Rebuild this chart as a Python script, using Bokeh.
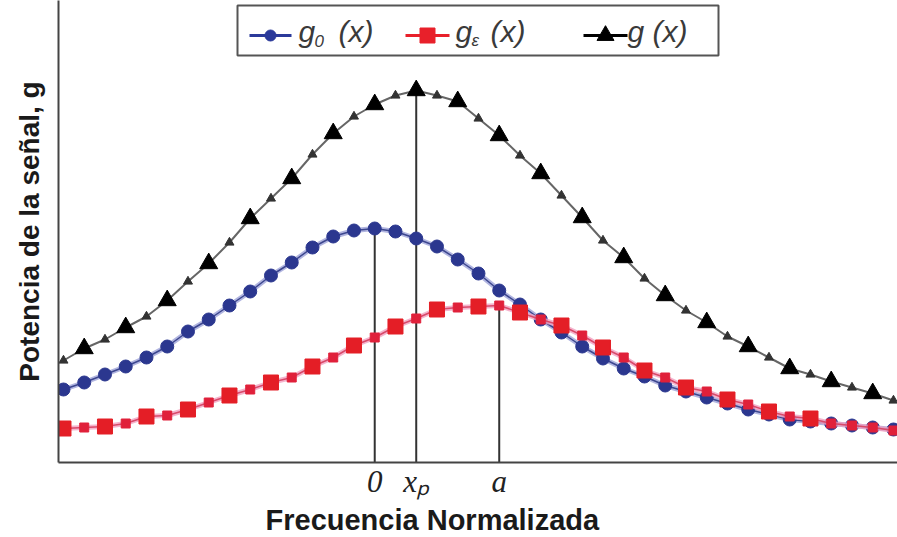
import numpy as np
from bokeh.plotting import figure
from bokeh.models import Range1d, FixedTicker, Title
from bokeh.core.properties import value
from bokeh.embed import file_html
from bokeh.resources import INLINE

# ---------------- data ----------------
freq = [-15, -14, -13, -12, -11, -10, -9, -8, -7, -6, -5, -4, -3, -2, -1, 0,
        1, 2, 3, 4, 5, 6, 7, 8, 9, 10, 11, 12, 13, 14, 15, 16, 17, 18, 19, 20,
        21, 22, 23, 24, 25]
g0 = [0.73, 0.80, 0.88, 0.96, 1.05, 1.16, 1.31, 1.43, 1.57, 1.71, 1.87, 2.00,
      2.15, 2.26, 2.32, 2.34, 2.31, 2.24, 2.16, 2.03, 1.89, 1.72, 1.58, 1.43,
      1.30, 1.16, 1.04, 0.94, 0.86, 0.77, 0.71, 0.65, 0.59, 0.53, 0.48, 0.43,
      0.41, 0.39, 0.37, 0.35, 0.33]
geps = [0.34, 0.35, 0.36, 0.39, 0.46, 0.47, 0.53, 0.60, 0.67, 0.73, 0.80, 0.85,
        0.96, 1.05, 1.17, 1.25, 1.36, 1.44, 1.53, 1.55, 1.56, 1.57, 1.50, 1.43,
        1.37, 1.27, 1.15, 1.05, 0.92, 0.85, 0.75, 0.71, 0.63, 0.58, 0.51, 0.46,
        0.44, 0.39, 0.37, 0.35, 0.32]
g = [1.02, 1.14, 1.23, 1.35, 1.46, 1.62, 1.81, 1.99, 2.20, 2.44, 2.64, 2.84,
     3.08, 3.29, 3.46, 3.58, 3.67, 3.72, 3.67, 3.61, 3.44, 3.27, 3.07, 2.89,
     2.67, 2.45, 2.22, 2.05, 1.84, 1.67, 1.52, 1.40, 1.26, 1.16, 1.05, 0.94,
     0.88, 0.81, 0.75, 0.69, 0.62]

tick_labels = ["0", "xₚ", "a"]
x_title = "Frecuencia Normalizada"
y_title = "Potencia de la señal, g"
legend_main = ["g", "g", "g"]
legend_sub = ["0", "ε", ""]
legend_arg = "(x)"

# ---------------- figure ----------------
W, H = 897, 537
FL, FR, FT, FB = 58, 897, 0, 462   # frame edges in canvas pixels
X0 = -15.24
X1 = X0 + (FR - FL) / 20.75
Y0 = 0.0
Y1 = (FB - FT) / 100.0


def sx(px):
    return X0 + (px - FL) * (X1 - X0) / (FR - FL)


def sy(py):
    return Y1 - (py - FT) * (Y1 - Y0) / (FB - FT)


p = figure(width=W, height=H, x_range=Range1d(X0, X1), y_range=Range1d(Y0, Y1),
           output_backend="svg", toolbar_location=None,
           min_border_left=FL, min_border_bottom=H - FB, min_border_top=FT, min_border_right=W - FR)
p.outline_line_color = None
p.grid.visible = False
p.background_fill_color = "white"

fx = np.array(freq, dtype=float)
a0 = np.array(g0)
ae = np.array(geps)
ag = np.array(g)
idx = np.arange(len(freq))

# peak positions -> ticks and drop lines
peaks_x = [fx[np.argmax(a0)], fx[np.argmax(ag)], fx[np.argmax(ae)]]
peaks_y = [a0.max(), ag.max(), ae.max()]

p.xaxis.ticker = FixedTicker(ticks=peaks_x)
p.xaxis.major_label_overrides = {float(t): lab for t, lab in zip(peaks_x, tick_labels)}
p.xaxis.major_label_text_font = "Liberation Serif"
p.xaxis.major_label_text_font_style = "italic"
p.xaxis.major_label_text_font_size = "31px"
p.xaxis.major_label_text_color = "#222222"
p.xaxis.major_label_standoff = -5
p.xaxis.major_tick_line_color = None
p.xaxis.minor_tick_line_color = None
p.yaxis.ticker = FixedTicker(ticks=[])
p.yaxis.major_tick_line_color = None
p.yaxis.minor_tick_line_color = None
for ax in (p.xaxis, p.yaxis):
    ax.axis_line_color = "#444444"
    ax.axis_line_width = 2

p.yaxis.axis_label = y_title
p.yaxis.axis_label_text_font = "Liberation Sans"
p.yaxis.axis_label_text_font_style = "bold"
p.yaxis.axis_label_text_font_size = "28px"
p.yaxis.axis_label_text_color = "#1a1a1a"
p.yaxis.axis_label_standoff = 14

# drop lines
p.segment(x0=peaks_x, y0=[0, 0, 0], x1=peaks_x, y1=peaks_y, line_color="#333333", line_width=2)

# g(x) black
p.line(fx, ag, line_color="#666666", line_width=2)
big = idx % 2 == 1
p.scatter(fx[~big], ag[~big], marker="triangle", size=9, fill_color="#333333", line_color="#333333")
p.scatter(fx[big], ag[big], marker="triangle", size=18, fill_color="black", line_color="black")

# g0(x) blue
p.line(fx, a0, line_color="#9da3d8", line_width=5, line_alpha=0.8)
p.line(fx, a0, line_color="#3d478f", line_width=1.5)
p.scatter(fx, a0, marker="circle", size=13, fill_color="#2b378f", line_color="#2b378f")

# g_eps(x) red
p.line(fx, ae, line_color="#f2a0c0", line_width=5, line_alpha=0.8)
p.line(fx, ae, line_color="#d84a6a", line_width=1.5)
bigr = (idx % 2 == 0) & (idx <= 36)
p.scatter(fx[~bigr], ae[~bigr], marker="square", size=9, fill_color="#e0203a", line_color="#e0203a")
p.scatter(fx[bigr], ae[bigr], marker="square", size=15, fill_color="#e41e26", line_color="#e41e26")

# ---------------- manual legend ----------------
p.quad(left=sx(237), right=sx(718), top=sy(5), bottom=sy(55),
       fill_color="white", line_color="#555555", line_width=2)
row = sy(35)
item_line = [(249, 291), (405, 449), (583, 627)]
item_col = ["#2b3a9a", "#e8202a", "black"]
item_mark = ["circle", "square", "triangle"]
item_size = [11, 15, 17]
text_x = [298, 455, 627]
sub_dx = [16, 16, 0]
arg_x = [338, 490, 652]
for (l0, l1), c, m, s in zip(item_line, item_col, item_mark, item_size):
    p.line([sx(l0), sx(l1)], [row, row], line_color=c, line_width=3)
    p.scatter([sx((l0 + l1) / 2)], [row], marker=m, size=s, fill_color=c, line_color=c)
p.text(x=[sx(t) for t in text_x], y=[sy(31)] * 3, text=legend_main,
       text_font=value("Liberation Sans"), text_font_style="italic", text_font_size="30px",
       text_color="#3a3a3a", text_baseline="middle", text_align="left")
p.text(x=[sx(t + d) for t, d in zip(text_x, sub_dx)], y=[sy(40)] * 3, text=legend_sub,
       text_font=value("Liberation Sans"), text_font_style="italic", text_font_size="17px",
       text_color="#3a3a3a", text_baseline="middle", text_align="left")
p.text(x=[sx(t) for t in arg_x], y=[sy(31)] * 3, text=[legend_arg] * 3,
       text_font=value("Liberation Sans"), text_font_style="italic", text_font_size="30px",
       text_color="#3a3a3a", text_baseline="middle", text_align="left")

# x axis title (below the axis, left edge where the reference starts it)
p.add_layout(Title(text=x_title, align="left", offset=265 - FL,
                   text_font="Liberation Sans", text_font_style="bold",
                   text_font_size="29px", text_color="#1a1a1a", standoff=0), "below")

open("out.html", "w").write(file_html(p, INLINE))
